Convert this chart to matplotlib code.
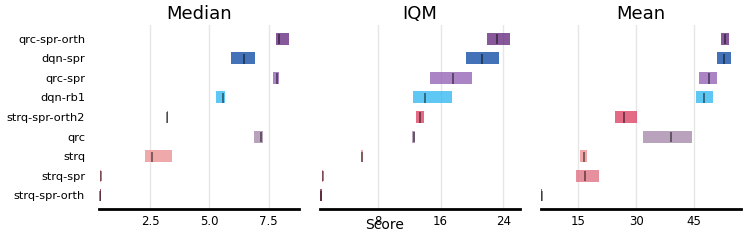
import numpy as np
import matplotlib
matplotlib.use("Agg")
import matplotlib.pyplot as plt

# algorithms, listed top to bottom
algorithms = ["qrc-spr-orth", "dqn-spr", "qrc-spr", "dqn-rb1", "strq-spr-orth2",
              "qrc", "strq", "strq-spr", "strq-spr-orth"]
colors = ["#602179", "#0543a0", "#8f5bb3", "#28b5f1", "#dc395c",
          "#a083a6", "#ec8c8e", "#e06b7c", "#8a1f40"]

# (lower, point, upper) per algorithm
median_lo = [7.82, 5.92, 7.69, 5.27, 3.20, 6.89, 2.30, 0.41, 0.38]
median_pt = [7.91, 6.44, 7.83, 5.59, 3.23, 7.17, 2.60, 0.43, 0.40]
median_hi = [8.36, 6.92, 7.91, 5.65, 3.26, 7.24, 3.42, 0.45, 0.42]

iqm_lo = [21.87, 19.27, 14.65, 12.49, 12.87, 12.40, 5.84, 0.92, 0.72]
iqm_pt = [23.20, 21.31, 17.62, 13.98, 13.34, 12.58, 6.00, 1.00, 0.79]
iqm_hi = [24.83, 23.43, 20.04, 17.49, 13.85, 12.78, 6.17, 1.08, 0.86]

mean_lo = [51.90, 50.94, 46.20, 45.50, 24.57, 31.80, 15.44, 14.40, 5.40]
mean_pt = [52.86, 52.60, 48.88, 47.50, 26.74, 38.90, 16.40, 16.65, 5.53]
mean_hi = [53.97, 54.40, 50.87, 49.75, 30.26, 44.50, 17.33, 20.35, 5.66]

panels = [
    ("Median", median_lo, median_pt, median_hi, (0.35, 8.77), [2.5, 5.0, 7.5]),
    ("IQM", iqm_lo, iqm_pt, iqm_hi, (0.66, 26.1), [8, 16, 24]),
    ("Mean", mean_lo, mean_pt, mean_hi, (5.28, 57.0), [15, 30, 45]),
]

fig = plt.figure(figsize=(7.47, 2.4), dpi=100)
lefts = [0.1325, 0.4284, 0.7238]
h = 0.62
n = len(algorithms)
ys = np.arange(n)[::-1]

for i, (title, lo, pt, hi, xlim, ticks) in enumerate(panels):
    ax = fig.add_axes([lefts[i], 0.129, 0.2677, 0.767])
    lo, pt, hi = np.array(lo), np.array(pt), np.array(hi)
    for j in range(n):
        ax.barh(y=ys[j], width=hi[j] - lo[j], left=lo[j], height=h,
                color=colors[j], alpha=0.75, linewidth=0)
        ax.vlines(x=pt[j], ymin=ys[j] - 7.5 * h / 16, ymax=ys[j] + 6 * h / 16,
                  color="k", alpha=0.5, linewidth=1.3)
    ax.set_xlim(*xlim)
    ax.set_ylim(-0.7, n - 1 + 0.7)
    ax.set_xticks(ticks)
    ax.set_xticklabels([str(t) for t in ticks], fontsize=8.5)
    ax.set_title(title, fontsize=13, pad=4)
    ax.grid(axis="x", color="#e6e6e6", linewidth=1)
    ax.set_axisbelow(True)
    for s in ["left", "right", "top"]:
        ax.spines[s].set_visible(False)
    ax.spines["bottom"].set_linewidth(2)
    ax.tick_params(axis="x", length=0, pad=4)
    ax.tick_params(axis="y", length=0, pad=10)
    if i == 0:
        ax.set_yticks(ys)
        ax.set_yticklabels(algorithms, fontsize=8.2)
    else:
        ax.set_yticks([])

fig.text(0.515, 0.062, "Score", ha="center", va="center", fontsize=10)
fig.savefig("out.png", dpi=100)
